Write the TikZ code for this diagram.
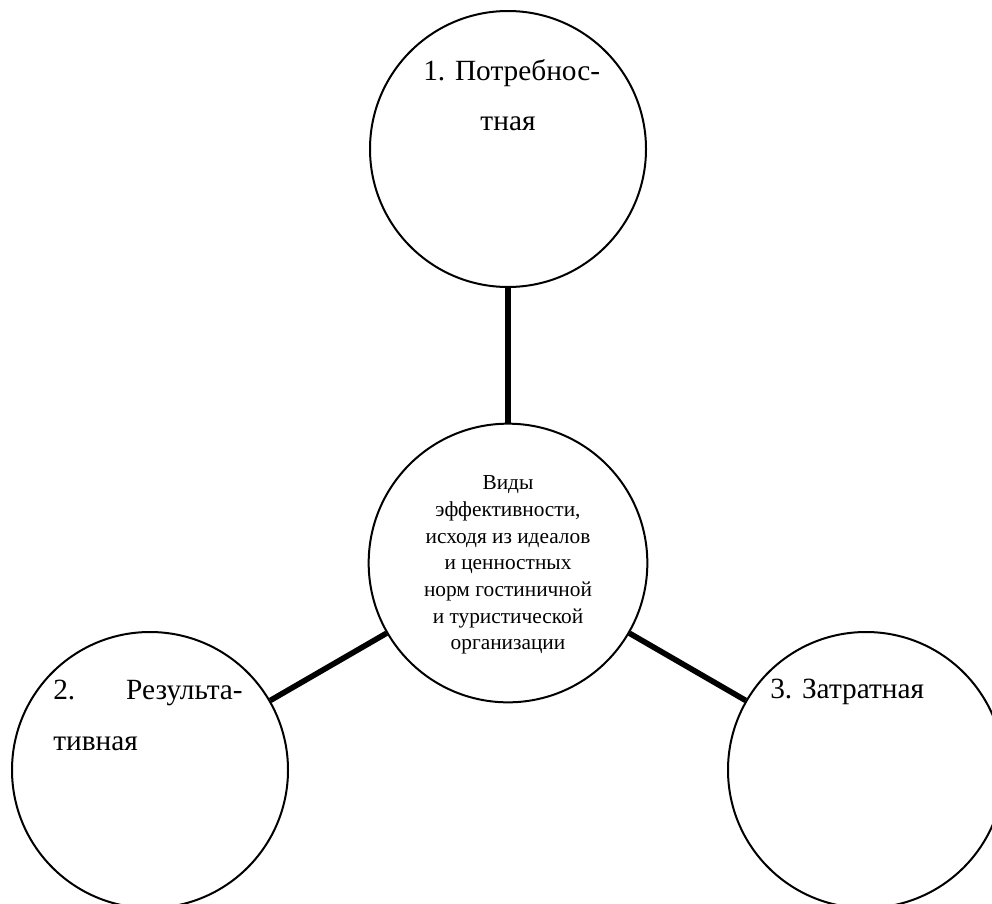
\documentclass[tikz,border=0pt]{standalone}
\usepackage{fontspec}
\setmainfont{Liberation Serif}
\begin{document}
\begin{tikzpicture}[x=0.75pt,y=-0.75pt,
  circ/.style={draw=black,line width=1.5pt,circle,inner sep=0pt,minimum size=#1},
  link/.style={line width=4.2pt,line cap=butt},
  outer/.style={font=\fontsize{22}{37}\selectfont,inner sep=0pt},
  inner/.style={font=\fontsize{16}{20}\selectfont,inner sep=0pt,align=center}]
\useasboundingbox (0,0) rectangle (992,903);
\node[circ=207pt] (top) at (508,149) {};
\node[circ=209pt] (mid) at (508,563) {};
\node[circ=207pt] (left) at (150,770) {};
\node[circ=207pt] (right) at (866,770) {};
\draw[link] (top) -- (mid);
\draw[link] (mid) -- (left);
\draw[link] (mid) -- (right);
\node[outer,anchor=base west] (t1) at (423,80) {1. Потребнос-};
\node[outer,anchor=base] (t2) at (508,130) {тная};
\node[outer,anchor=base west] (l1a) at (53,699) {2.};
\node[outer,anchor=base east] (l1b) at (243,699) {Результа-};
\node[outer,anchor=base west] (l2) at (53,750) {тивная};
\node[outer,anchor=base west] (r1) at (770,698) {3. Затратная};
\node[inner] (mtext) at (508,565) {Виды\\эффективности,\\исходя из идеалов\\и ценностных\\норм гостиничной\\и туристической\\организации};
\end{tikzpicture}
\end{document}
